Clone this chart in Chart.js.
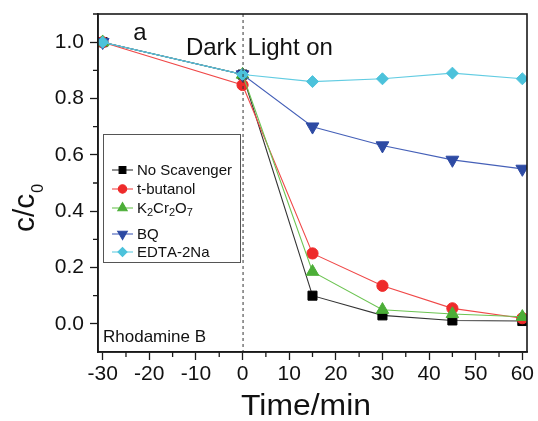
<!DOCTYPE html>
<html>
<head>
<meta charset="utf-8">
<script src="https://cdn.jsdelivr.net/npm/chart.js@4/dist/chart.umd.min.js"></script>
<style>
    html, body { margin: 0; padding: 0; background: #fff; }
    #chart { display: block; }
</style>
</head>
<body>
<canvas id="chart" width="538" height="421"></canvas>
<script>
const times = [-30, 0, 15, 30, 45, 60];
const noScavenger = [1.0, 0.885, 0.10, 0.03, 0.012, 0.01];
const tButanol = [1.0, 0.848, 0.25, 0.135, 0.055, 0.02];
const k2cr2o7 = [1.0, 0.885, 0.185, 0.05, 0.035, 0.025];
const bq = [1.0, 0.885, 0.70, 0.633, 0.582, 0.55];
const edta = [1.0, 0.885, 0.86, 0.87, 0.89, 0.87];

const seriesNames = ["No Scavenger", "t-butanol", "K2Cr2O7", "BQ", "EDTA-2Na"];
const xTicks = [-30, -20, -10, 0, 10, 20, 30, 40, 50, 60];
const yTicks = [0.0, 0.2, 0.4, 0.6, 0.8, 1.0];

const FONT = "'Liberation Sans', Arial, Helvetica, sans-serif";
const AXIS_COLOR = "#1a1a1a";

function toPoints(values) {
    return times.map((t, i) => ({ x: t, y: values[i] }));
}

function makeDataset(label, values, lineColor, pointColor, style, radius, rotation, order) {
    return {
        label: label,
        data: toPoints(values),
        borderColor: lineColor,
        backgroundColor: pointColor,
        borderWidth: 1.1,
        pointStyle: style,
        pointRadius: radius,
        pointRotation: rotation,
        pointBackgroundColor: pointColor,
        pointBorderColor: pointColor,
        pointBorderWidth: 1,
        tension: 0,
        fill: false,
        order: order,
    };
}

// draws text where digits right after a letter become subscripts
function drawSubText(ctx, text, x, y, size) {
    let cx = x;
    for (let i = 0; i < text.length; i++) {
        const ch = text[i];
        const isSub = /[0-9]/.test(ch) && i > 0 && /[A-Za-z]/.test(text[i - 1]);
        if (isSub) {
            ctx.font = `${Math.round(size * 0.72)}px ${FONT}`;
            ctx.fillText(ch, cx, y + size * 0.28);
        } else {
            ctx.font = `${size}px ${FONT}`;
            ctx.fillText(ch, cx, y);
        }
        cx += ctx.measureText(ch).width;
    }
}

const decorPlugin = {
    id: "decor",
    afterDatasetsDraw(chart) {
        const ctx = chart.ctx;
        const area = chart.chartArea;
        const xs = chart.scales.x;
        const ys = chart.scales.y;

        ctx.save();

        // dashed line at t = 0
        const x0 = xs.getPixelForValue(0);
        ctx.strokeStyle = "#333";
        ctx.lineWidth = 1;
        ctx.setLineDash([3, 3]);
        ctx.beginPath();
        ctx.moveTo(x0 + 0.5, area.top);
        ctx.lineTo(x0 + 0.5, area.bottom);
        ctx.stroke();
        ctx.setLineDash([]);

        // frame
        ctx.strokeStyle = AXIS_COLOR;
        ctx.lineWidth = 1.6;
        ctx.strokeRect(area.left, area.top, area.right - area.left, area.bottom - area.top);

        // minor ticks
        ctx.lineWidth = 1.3;
        ctx.beginPath();
        for (let v = -25; v <= 55; v += 10) {
            const px = xs.getPixelForValue(v);
            ctx.moveTo(px, area.bottom);
            ctx.lineTo(px, area.bottom + 5);
        }
        for (let v = 0.1; v < 1.1; v += 0.2) {
            const py = ys.getPixelForValue(v);
            ctx.moveTo(area.left, py);
            ctx.lineTo(area.left - 5, py);
        }
        ctx.stroke();

        // annotations
        ctx.fillStyle = "#111";
        ctx.textBaseline = "alphabetic";
        ctx.font = `24px ${FONT}`;
        ctx.textAlign = "center";
        ctx.fillText("a", xs.getPixelForValue(-22), 40);

        ctx.font = `24px ${FONT}`;
        ctx.textAlign = "right";
        ctx.fillText("Dark", x0 - 6, 55);
        ctx.textAlign = "left";
        ctx.fillText("Light on", x0 + 5, 55);

        ctx.font = `17px ${FONT}`;
        ctx.fillText("Rhodamine B", area.left + 5, 342);

        // legend box
        const lx = 103, ly = 134, lw = 137, lh = 128;
        ctx.strokeStyle = "#555";
        ctx.lineWidth = 1;
        ctx.strokeRect(lx + 0.5, ly + 0.5, lw, lh);

        const rowY = [170, 189, 208, 234, 252];
        const legendOrder = [0, 1, 2, 3, 4];
        legendOrder.forEach((di, row) => {
            const ds = chart.data.datasets[di];
            const cy = rowY[row];
            ctx.strokeStyle = ds.borderColor;
            ctx.lineWidth = 1.1;
            ctx.beginPath();
            ctx.moveTo(112, cy);
            ctx.lineTo(133, cy);
            ctx.stroke();
            ctx.fillStyle = ds.pointBackgroundColor;
            ctx.strokeStyle = ds.pointBorderColor;
            Chart.helpers.drawPoint(ctx, {
                pointStyle: ds.pointStyle,
                radius: ds.pointRadius * 0.75,
                rotation: ds.pointRotation,
                borderWidth: 1,
            }, 122.5, cy);
            ctx.fillStyle = "#111";
            ctx.textAlign = "left";
            ctx.textBaseline = "middle";
            drawSubText(ctx, seriesNames[di], 137, cy + 1, 15);
            ctx.textBaseline = "alphabetic";
        });

        // axis titles
        ctx.fillStyle = "#111";
        ctx.textAlign = "center";
        ctx.font = `29px ${FONT}`;
        ctx.save();
        ctx.translate(306, 415);
        ctx.scale(1.1, 1);
        ctx.fillText("Time/min", 0, 0);
        ctx.restore();

        ctx.save();
        ctx.translate(34, 232);
        ctx.rotate(-Math.PI / 2);
        ctx.textAlign = "left";
        ctx.font = `30px ${FONT}`;
        ctx.fillText("c/c", 0, 0);
        const w = ctx.measureText("c/c").width;
        ctx.font = `16px ${FONT}`;
        ctx.fillText("0", w + 1, 9);
        ctx.restore();

        ctx.restore();
    },
};

const datasets = [
    makeDataset(seriesNames[0], noScavenger, "#333333", "#000000", "rect", 6.4, 0, 5),
    makeDataset(seriesNames[1], tButanol, "#f04848", "#ee2a2a", "circle", 5.6, 0, 4),
    makeDataset(seriesNames[2], k2cr2o7, "#6cc452", "#4cae38", "triangle", 7.2, 0, 3),
    makeDataset(seriesNames[3], bq, "#4560b8", "#2d4aa3", "triangle", 7.4, 180, 2),
    makeDataset(seriesNames[4], edta, "#62cce2", "#4cc2db", "rectRot", 6, 0, 1),
];

new Chart(document.getElementById("chart"), {
    type: "line",
    data: { datasets: datasets },
    options: {
        responsive: false,
        animation: false,
        devicePixelRatio: 1,
        layout: { padding: { left: 0, right: 11, top: 14, bottom: 0 } },
        plugins: {
            legend: { display: false },
            tooltip: { enabled: false },
        },
        scales: {
            x: {
                type: "linear",
                min: -31,
                max: 61,
                afterFit(scale) {
                    scale.height = 69;
                    scale.paddingLeft = 0;
                    scale.paddingRight = 0;
                },
                afterBuildTicks(scale) { scale.ticks = xTicks.map((v) => ({ value: v })); },
                ticks: {
                    color: "#111",
                    font: { family: FONT, size: 21 },
                    padding: 2,
                    maxRotation: 0,
                    autoSkip: false,
                    callback: (v) => String(v),
                },
                grid: {
                    drawOnChartArea: false,
                    tickLength: 8,
                    tickWidth: 1.3,
                    tickColor: AXIS_COLOR,
                },
                border: { color: AXIS_COLOR, width: 1.6 },
            },
            y: {
                min: -0.1,
                max: 1.1,
                afterFit(scale) {
                    scale.width = 98;
                    scale.paddingTop = 0;
                    scale.paddingBottom = 0;
                },
                afterBuildTicks(scale) { scale.ticks = yTicks.map((v) => ({ value: v })); },
                ticks: {
                    color: "#111",
                    font: { family: FONT, size: 21 },
                    padding: 6,
                    autoSkip: false,
                    callback: (v) => Number(v).toFixed(1),
                },
                grid: {
                    drawOnChartArea: false,
                    tickLength: 8,
                    tickWidth: 1.3,
                    tickColor: AXIS_COLOR,
                },
                border: { color: AXIS_COLOR, width: 1.6 },
            },
        },
    },
    plugins: [decorPlugin],
});
</script>
</body>
</html>
